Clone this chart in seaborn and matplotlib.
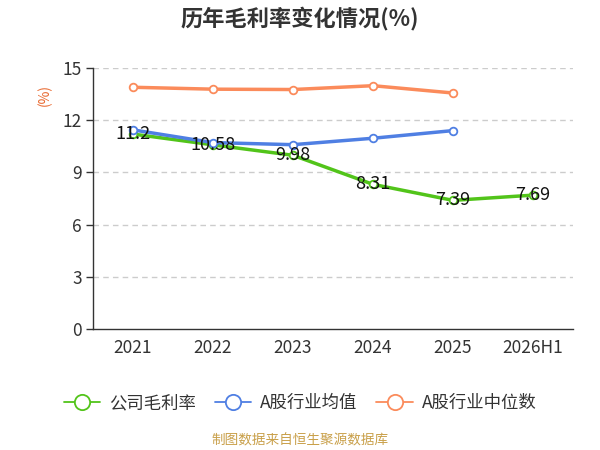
import matplotlib
matplotlib.use("Agg")
import matplotlib.pyplot as plt
from matplotlib.lines import Line2D
import seaborn as sns
import pandas as pd
import numpy as np
from matplotlib.ticker import FixedLocator

categories = ["2021", "2022", "2023", "2024", "2025", "2026H1"]
company = [11.2, 10.58, 9.98, 8.31, 7.39, 7.69]
industry_avg = [11.44, 10.71, 10.59, 10.96, 11.40]
industry_median = [13.89, 13.78, 13.76, 13.98, 13.56]
y_ticks = [0, 3, 6, 9, 12, 15]

series_names = ["公司毛利率", "A股行业均值", "A股行业中位数"]
colors = ["#52c41a", "#4f7fe3", "#fb8b5b"]

sns.set_theme(style="white")
plt.rcParams['font.family'] = ['Noto Sans CJK SC', 'DejaVu Sans']

fig = plt.figure(figsize=(6, 4.5), dpi=100)
ax = fig.add_axes([0.155, 0.269, 0.80, 0.58])

values = [company, industry_avg, industry_median]
for name, vals, col in zip(series_names, values, colors):
    df = pd.DataFrame({"pos": np.arange(len(vals)), "val": vals})
    sns.lineplot(data=df, x="pos", y="val", ax=ax, color=col, linewidth=2.5,
                 marker="o", markersize=5.5, markerfacecolor="white",
                 markeredgecolor=col, markeredgewidth=1.3, legend=False)

for i, v in enumerate(company):
    ax.text(i, v, f"{v:g}", ha="center", va="center", fontsize=13, color="#111111", zorder=5)

ax.set_xlim(-0.5, len(categories) - 0.5)
ax.set_ylim(0, 15)
ax.set_yticks(y_ticks)
ax.set_yticklabels([str(t) for t in y_ticks], fontsize=12.5, color="#333333")
ax.set_xticks(range(len(categories)))
ax.set_xticklabels(categories, fontsize=12.5, color="#333333")
ax.tick_params(axis="x", which="major", length=0, pad=7)
ax.xaxis.set_minor_locator(FixedLocator(np.arange(-0.5, len(categories), 1)))
ax.tick_params(axis="x", which="minor", length=5, color="#333333", width=1)
ax.tick_params(axis="y", which="major", length=5, color="#333333", width=1, left=True, pad=3)
ax.set_xlabel("")
ax.set_ylabel("")

for y in y_ticks[1:]:
    ax.axhline(y, color="#cccccc", linestyle=(0, (4, 3)), linewidth=1, zorder=0)

for s in ["top", "right"]:
    ax.spines[s].set_visible(False)
for s in ["left", "bottom"]:
    ax.spines[s].set_color("#333333")
    ax.spines[s].set_linewidth(1)

fig.text(0.074, 0.79, "(%)", rotation=90, color="#e8662c", fontsize=10, ha="center", va="center")
fig.text(0.5, 0.958, "历年毛利率变化情况(%)", fontsize=16, fontweight="bold", color="#333333",
         ha="center", va="center")

handles = [Line2D([0], [0], color=c, linewidth=1.3, marker="o", markersize=11,
                  markerfacecolor="white", markeredgecolor=c, markeredgewidth=1.3)
           for c in colors]
leg = fig.legend(handles, series_names, loc="center", bbox_to_anchor=(0.5, 0.104),
                 ncol=3, frameon=False, fontsize=12.5, handlelength=2.1, columnspacing=1.1,
                 handletextpad=0.5)
for t in leg.get_texts():
    t.set_color("#333333")

fig.text(0.5, 0.022, "制图数据来自恒生聚源数据库", fontsize=9.8, color="#c9a04a", ha="center", va="center")

fig.savefig("out.png", dpi=100)
